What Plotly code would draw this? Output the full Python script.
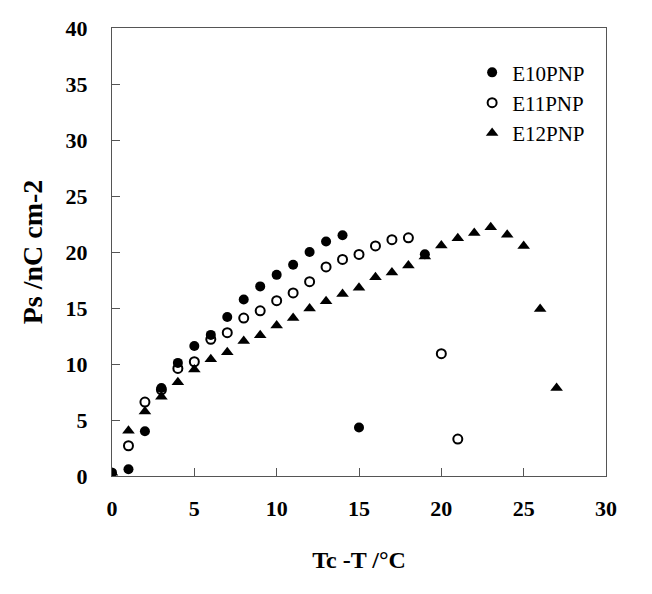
import plotly.graph_objects as go

# Data
e10_x = [0, 1, 2, 3, 4, 5, 6, 7, 8, 9, 10, 11, 12, 13, 14, 15, 19]
e10_y = [0.3, 0.6, 4.0, 7.85, 10.1, 11.6, 12.6, 14.2, 15.76, 16.93, 17.96, 18.86, 20.0, 20.93, 21.5, 4.33, 19.8]

e11_x = [1, 2, 3, 4, 5, 6, 7, 8, 9, 10, 11, 12, 13, 14, 15, 16, 17, 18, 20, 21]
e11_y = [2.7, 6.6, 7.7, 9.6, 10.2, 12.2, 12.8, 14.1, 14.75, 15.65, 16.35, 17.35, 18.67, 19.34, 19.78, 20.54, 21.1, 21.27, 10.92, 3.3]

e12_x = list(range(0, 28))
e12_y = [0.3, 4.05, 5.75, 7.07, 8.38, 9.5, 10.42, 11.06, 12.05, 12.57, 13.44, 14.1, 14.95, 15.6,
         16.24, 16.8, 17.75, 18.16, 18.8, 19.6, 20.58, 21.23, 21.7, 22.2, 21.54, 20.54, 14.9, 7.85]

x_ticks = [0, 5, 10, 15, 20, 25, 30]
y_ticks = [0, 5, 10, 15, 20, 25, 30, 35, 40]

FONT = "Liberation Serif"

fig = go.Figure()
fig.add_trace(go.Scatter(x=e10_x, y=e10_y, mode="markers", name="E10PNP",
                         marker=dict(symbol="circle", size=10, color="black")))
fig.add_trace(go.Scatter(x=e11_x, y=e11_y, mode="markers", name="E11PNP",
                         marker=dict(symbol="circle-open", size=9, color="black",
                                     line=dict(width=2, color="black"))))
fig.add_trace(go.Scatter(x=e12_x, y=e12_y, mode="markers", name="E12PNP",
                         marker=dict(symbol="triangle-up", size=11, color="black")))

axis_common = dict(
    showgrid=False, zeroline=False, showline=True, linecolor="#555555", linewidth=1,
    mirror=True, ticks="inside", ticklen=8, tickcolor="#555555",
    ticklabeloverflow="allow",
    tickfont=dict(family=FONT, size=22, color="black", weight="bold"),
)

fig.update_xaxes(range=[0, 30], tickvals=x_ticks, ticklabelstandoff=13,
                 title=dict(text="<b>Tc -T /°C</b>", font=dict(family=FONT, size=24, color="black"),
                            standoff=30),
                 **axis_common)
fig.update_yaxes(range=[0, 40], tickvals=y_ticks, ticklabelstandoff=19,
                 title=dict(text="<b>Ps /nC cm-2</b>", font=dict(family=FONT, size=28, color="black"),
                            standoff=14),
                 **axis_common)

fig.update_layout(
    width=652, height=594,
    margin=dict(l=104, r=54, t=20, b=126, autoexpand=False),
    paper_bgcolor="white", plot_bgcolor="white",
    showlegend=True,
    legend=dict(x=0.729, y=0.946, xanchor="left", yanchor="top",
                font=dict(family=FONT, size=21, color="black"),
                bgcolor="rgba(0,0,0,0)", itemsizing="trace", tracegroupgap=0),
)

fig.write_html("out.html")
